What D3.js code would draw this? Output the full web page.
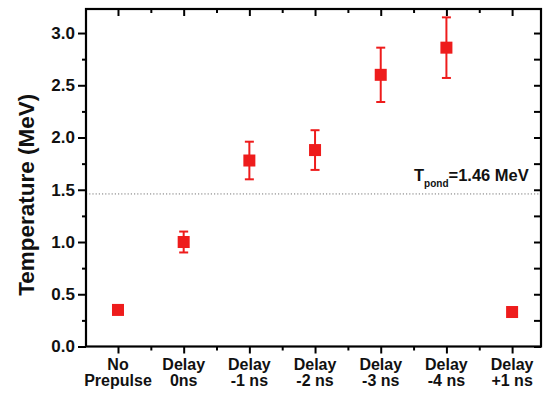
<!DOCTYPE html>
<html><head><meta charset="utf-8">
<script src="https://cdn.jsdelivr.net/npm/d3@7"></script>
<style>html,body{margin:0;padding:0;background:#fff}svg{display:block}text{font-family:"Liberation Sans",Arial,sans-serif;font-weight:bold}</style>
</head><body><svg id="c" width="544" height="394"></svg>
<script>
const categories = [["No","Prepulse"],["Delay","0ns"],["Delay","-1 ns"],["Delay","-2 ns"],["Delay","-3 ns"],["Delay","-4 ns"],["Delay","+1 ns"]];
const temperatures = [0.35, 1.00, 1.78, 1.88, 2.60, 2.86, 0.33];
const errors = [0.04, 0.10, 0.18, 0.19, 0.26, 0.29, 0.03];
const yTicks = [0.0, 0.5, 1.0, 1.5, 2.0, 2.5, 3.0];
const pondValue = 1.46;

const svg = d3.select("#c");
const L = 86, R = 541, T = 9, B = 346.5;
const x = d3.scaleLinear().domain([0.513, 7.44]).range([L, R]);
const y = d3.scaleLinear().domain([0, 3.23]).range([B, T]);
const red = "#ee1c1c";
const idx = d3.range(1, categories.length + 1);
const minorX = d3.range(1.5, 7, 1);
const minorY = d3.range(0.25, 3.2, 0.5);

// dotted line
svg.append("line").attr("x1", L).attr("x2", R).attr("y1", y(pondValue)).attr("y2", y(pondValue))
  .attr("stroke", "#777").attr("stroke-width", 1).attr("stroke-dasharray", "1.2,2");

// axes
const axisStyle = g => { g.selectAll(".domain").remove(); g.selectAll("line").attr("stroke", "#000").attr("stroke-width", 2); };
svg.append("g").attr("transform", `translate(${L},0)`)
  .call(d3.axisLeft(y).tickValues(yTicks).tickFormat(d3.format(".1f")).tickSize(8).tickPadding(3))
  .call(axisStyle).call(g => g.selectAll("text").attr("font-size", 17).attr("fill", "#111"));
svg.append("g").attr("transform", `translate(${L},0)`)
  .call(d3.axisLeft(y).tickValues(minorY).tickFormat("").tickSize(4)).call(axisStyle);
svg.append("g").attr("transform", `translate(${R},0)`)
  .call(d3.axisLeft(y).tickValues(yTicks.concat(minorY)).tickFormat("").tickSize(7)).call(axisStyle);
svg.append("g").attr("transform", `translate(0,${B})`)
  .call(d3.axisBottom(x).tickValues(idx).tickFormat("").tickSize(7)).call(axisStyle);
svg.append("g").attr("transform", `translate(0,${B})`)
  .call(d3.axisBottom(x).tickValues(minorX).tickFormat("").tickSize(4)).call(axisStyle);
svg.append("g").attr("transform", `translate(0,${T})`)
  .call(d3.axisBottom(x).tickValues(idx).tickFormat("").tickSize(7)).call(axisStyle);
svg.append("g").attr("transform", `translate(0,${T})`)
  .call(d3.axisBottom(x).tickValues(minorX).tickFormat("").tickSize(4)).call(axisStyle);

// frame
svg.append("rect").attr("x", L).attr("y", T).attr("width", R - L).attr("height", B - T)
  .attr("fill", "none").attr("stroke", "#000").attr("stroke-width", 2.2);

// category labels
const lab = svg.append("g").selectAll("text").data(categories).join("text")
  .attr("text-anchor", "middle").attr("font-size", 16).attr("fill", "#111")
  .attr("transform", (d, i) => `translate(${x(i + 1)},0)`);
lab.append("tspan").attr("x", 0).attr("y", 370).text(d => d[0]);
lab.append("tspan").attr("x", 0).attr("y", 386).text(d => d[1]);

// y title
svg.append("text").attr("transform", `translate(34,${(B + T) / 2 + 17}) rotate(-90)`)
  .attr("text-anchor", "middle").attr("font-size", 22.5).attr("fill", "#111").text("Temperature (MeV)");

// pond label
const pt = svg.append("text").attr("x", 414).attr("y", 181).attr("font-size", 16.5).attr("fill", "#111");
pt.append("tspan").text("T");
pt.append("tspan").attr("font-size", 10).attr("dy", 6).text("pond");
pt.append("tspan").attr("dy", -6).text("=1.46 MeV");

// error bars and markers
const pts = svg.append("g").selectAll("g").data(temperatures).join("g");
pts.append("line").attr("x1", (d, i) => x(i + 1)).attr("x2", (d, i) => x(i + 1))
  .attr("y1", (d, i) => y(d - errors[i])).attr("y2", (d, i) => y(d + errors[i]))
  .attr("stroke", red).attr("stroke-width", 2);
[-1, 1].forEach(s => {
  pts.append("line").attr("x1", (d, i) => x(i + 1) - 4.5).attr("x2", (d, i) => x(i + 1) + 4.5)
    .attr("y1", (d, i) => y(d + s * errors[i])).attr("y2", (d, i) => y(d + s * errors[i]))
    .attr("stroke", red).attr("stroke-width", 2);
});
pts.append("rect").attr("x", (d, i) => x(i + 1) - 6).attr("y", d => y(d) - 6)
  .attr("width", 12).attr("height", 12).attr("fill", red);
</script></body></html>
